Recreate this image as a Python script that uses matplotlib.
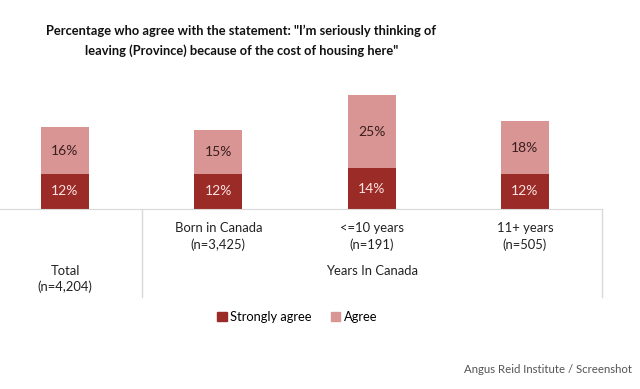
import matplotlib
matplotlib.use("Agg")
import matplotlib.pyplot as plt
from matplotlib.patches import Patch

plt.rcParams['font.family'] = ['Lato', 'DejaVu Sans']

categories = ["Total\n(n=4,204)", "Born in Canada\n(n=3,425)", "<=10 years\n(n=191)", "11+ years\n(n=505)"]
strongly = [12, 12, 14, 12]
agree = [16, 15, 25, 18]
series_names = ["Strongly agree", "Agree"]
group_label = "Years In Canada"
title = 'Percentage who agree with the statement: "I\u2019m seriously thinking of\nleaving (Province) because of the cost of housing here"'
source = "Angus Reid Institute / Screenshot"

dark = "#9B2B27"
light = "#D99594"
grid = "#D9D9D9"

fig = plt.figure(figsize=(6.4, 3.89), dpi=100)
ax = fig.add_axes([0, 0.4627, 0.9406, 0.3059])
x = list(range(len(categories)))
w = 0.313
ax.bar(x, strongly, width=w, color=dark)
ax.bar(x, agree, width=w, bottom=strongly, color=light)
for xi, s, a in zip(x, strongly, agree):
    ax.text(xi, s / 2, f"{s}%", ha="center", va="center", color="#FBE3E3", fontsize=10)
    ax.text(xi, s + a / 2, f"{a}%", ha="center", va="center", color="#3A1E1E", fontsize=10)

ax.set_xlim(-0.424, 3.503)
ax.set_ylim(0, 40.75)
for sp in ["top", "left", "right"]:
    ax.spines[sp].set_visible(False)
ax.spines["bottom"].set_color(grid)
ax.set_xticks([])
ax.set_yticks([])

# separator lines
ax.plot([0.5, 0.5], [0, -30], color=grid, lw=1, clip_on=False)
ax.plot([3.503, 3.503], [0, -30], color=grid, lw=1, clip_on=False)

# category labels
ax.text(x[0], -24, categories[0], ha="center", va="center", fontsize=9.4, color="#222222", linespacing=1.4)
for xi in x[1:]:
    ax.text(xi, -9.3, categories[xi], ha="center", va="center", fontsize=9.4, color="#222222", linespacing=1.4)
ax.text(x[2], -21.2, group_label, ha="center", va="center", fontsize=9.4, color="#222222")

fig.text(0.377, 0.895, title, ha="center", va="center", fontsize=9.3, fontweight="bold", color="#111111", linespacing=1.75)

handles = [Patch(color=dark), Patch(color=light)]
fig.legend(handles, series_names, loc="center", bbox_to_anchor=(0.465, 0.185), ncol=2, frameon=False,
           fontsize=9.3, handlelength=0.7, handleheight=0.7, handletextpad=0.3, columnspacing=1.5)

fig.text(0.9875, 0.0514, source, ha="right", va="center", fontsize=8.2, color="#555555")

fig.savefig("out.png", dpi=100)
